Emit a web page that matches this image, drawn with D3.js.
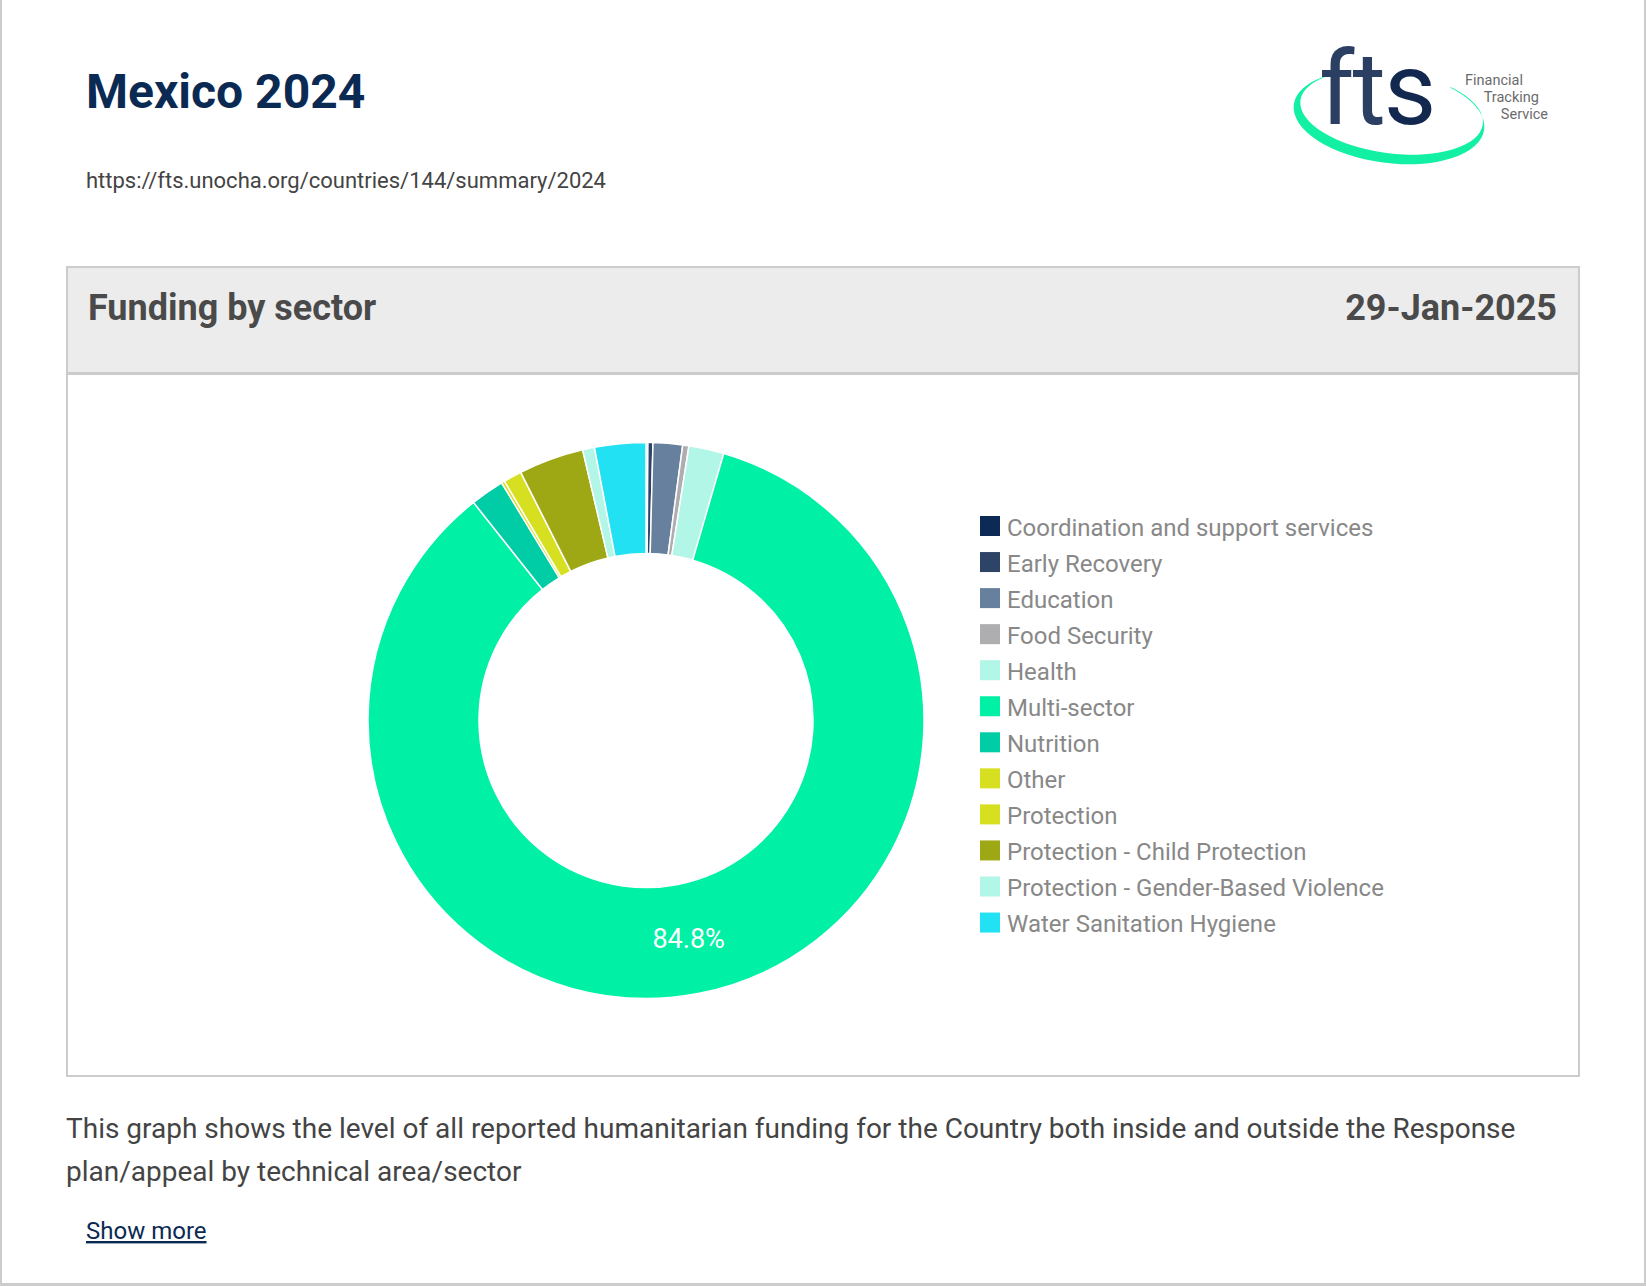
<!DOCTYPE html>
<html><head><meta charset="utf-8">
<script src="https://cdn.jsdelivr.net/npm/d3@7"></script>
<style>
html,body{margin:0;padding:0;background:#fff;overflow:hidden;}
svg{display:block;font-family:Roboto,"Noto Sans",sans-serif;}
</style></head><body>
<svg id="page" width="1646" height="1286"></svg>
<script>
// ---- data ----
const sectors = ["Coordination and support services","Early Recovery","Education","Food Security","Health","Multi-sector","Nutrition","Other","Protection","Protection - Child Protection","Protection - Gender-Based Violence","Water Sanitation Hygiene"];
const sharePct = [0.11, 0.29, 1.71, 0.36, 2.04, 84.84, 1.96, 0.19, 1.06, 3.78, 0.69, 2.97];
const sectorColors = ["#0b2a55","#2e4466","#67809e","#aeaeb1","#b1f6e6","#00f0a5","#00cca6","#d6e021","#d6e021","#9ea814","#b1f6e6","#22e1f2"];
const pageTitle = "Mexico 2024";
const pageUrl = "https://fts.unocha.org/countries/144/summary/2024";
const cardTitle = "Funding by sector";
const cardDate = "29-Jan-2025";
const descLines = ["This graph shows the level of all reported humanitarian funding for the Country both inside and outside the Response","plan/appeal by technical area/sector"];

const data = sectors.map((s,i)=>({name:s, value:sharePct[i], color:sectorColors[i]}));
const svg = d3.select("#page");

// page borders
svg.append("rect").attr("x",0).attr("y",0).attr("width",2).attr("height",1286).attr("fill","#cccccc");
svg.append("rect").attr("x",1644).attr("y",0).attr("width",2).attr("height",1286).attr("fill","#cccccc");
svg.append("rect").attr("x",0).attr("y",1283).attr("width",1646).attr("height",3).attr("fill","#cccccc");

// title + url
svg.append("text").attr("x",86).attr("y",108).attr("font-size",48).attr("font-weight",700)
  .attr("fill","#0b2a53").text(pageTitle);
svg.append("text").attr("x",86).attr("y",188).attr("font-size",22).attr("fill","#444444").text(pageUrl);

// logo
const logo = svg.append("g");
const defs = svg.append("defs");
const mask = defs.append("mask").attr("id","ringMask");
mask.append("rect").attr("x",1250).attr("y",20).attr("width",350).attr("height",180).attr("fill","#fff");
mask.append("rect").attr("x",1328).attr("y",20).attr("width",118).attr("height",80).attr("fill","#000");
function ellPath(cx,cy,rx,ry){return `M${cx-rx},${cy} a${rx},${ry} 0 1,0 ${2*rx},0 a${rx},${ry} 0 1,0 ${-2*rx},0 Z`;}
logo.append("path").attr("mask","url(#ringMask)")
  .attr("d", ellPath(1389,117,96,46) + " " + ellPath(1391,112,92,41))
  .attr("fill-rule","evenodd").attr("fill","#12f0a4")
  .attr("transform","rotate(7.5 1389 117)");
const fts = logo.append("text").attr("x",1319).attr("y",124).attr("font-size",102).attr("font-weight",400)
  .attr("letter-spacing",-2);
fts.append("tspan").attr("fill","#2b3f63").text("ft");
fts.append("tspan").attr("fill","#12284f").text("s");
const logoWords = ["Financial","Tracking","Service"];
const logoRight = [1523,1539,1548];
const logoBase = [85,102,119];
logoWords.forEach((w,i)=>{
  logo.append("text").attr("x",logoRight[i]).attr("y",logoBase[i]).attr("text-anchor","end")
    .attr("font-size",14.5).attr("fill","#6b6b6b").text(w);
});

// card
const card = {x:66,y:266,w:1514,h:811};
svg.append("rect").attr("x",card.x+1).attr("y",card.y+1).attr("width",card.w-2).attr("height",106)
  .attr("fill","#ececec");
svg.append("rect").attr("x",card.x).attr("y",372).attr("width",card.w).attr("height",3).attr("fill","#cccccc");
svg.append("rect").attr("x",card.x+1).attr("y",card.y+1).attr("width",card.w-2).attr("height",card.h-2)
  .attr("fill","none").attr("stroke","#cccccc").attr("stroke-width",2);
svg.append("text").attr("x",88).attr("y",320).attr("font-size",36).attr("font-weight",700)
  .attr("fill","#4a4a4a").text(cardTitle);
svg.append("text").attr("x",1557).attr("y",320).attr("text-anchor","end").attr("font-size",36).attr("font-weight",700)
  .attr("fill","#4a4a4a").text(cardDate);

// donut
const cx = 646, cy = 720.5, rOut = 278, rIn = 167;
const pie = d3.pie().sort(null).value(d=>d.value);
const arcs = pie(data);
const arc = d3.arc().innerRadius(rIn).outerRadius(rOut);
const total = d3.sum(data, d=>d.value);
const g = svg.append("g").attr("transform",`translate(${cx},${cy})`);
g.selectAll("path.slice").data(arcs).join("path").attr("class","slice")
  .attr("d",arc).attr("fill",d=>d.data.color).attr("stroke","#ffffff").attr("stroke-width",1.5);
g.selectAll("text.lbl").data(arcs.filter(d=>d.data.value/total>0.05)).join("text").attr("class","lbl")
  .attr("transform",d=>`translate(${arc.centroid(d)})`)
  .attr("text-anchor","middle").attr("dy","0.35em").attr("font-size",27).attr("fill","#ffffff")
  .text(d=>(d.data.value/total*100).toFixed(1)+"%");

// legend
const lg = svg.append("g").attr("transform","translate(980,516)");
const rows = lg.selectAll("g").data(data).join("g").attr("transform",(d,i)=>`translate(0,${i*36.05})`);
rows.append("rect").attr("width",20).attr("height",20).attr("fill",d=>d.color);
rows.append("text").attr("x",27).attr("y",19.7).attr("font-size",24).attr("fill","#888888").text(d=>d.name);

// description
descLines.forEach((t,i)=>{
  svg.append("text").attr("x",66).attr("y",1138+i*42.5).attr("font-size",28).attr("fill","#444444").text(t);
});
svg.append("text").attr("x",86).attr("y",1239).attr("font-size",24).attr("fill","#0b2a53")
  .attr("text-decoration","underline").text("Show more");
</script>
</body></html>
